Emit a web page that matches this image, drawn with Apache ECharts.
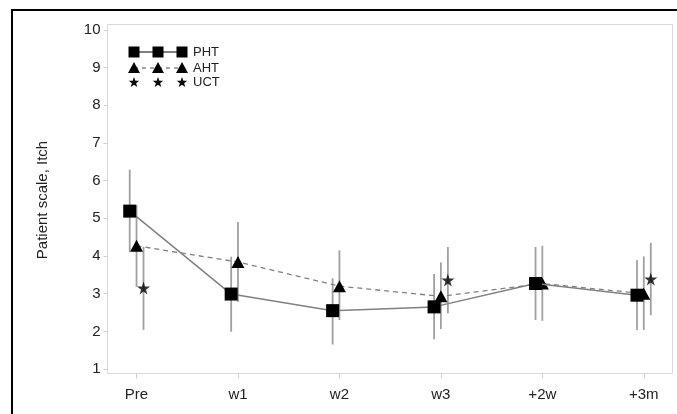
<!DOCTYPE html>
<html><head><meta charset="utf-8">
<script src="https://cdn.jsdelivr.net/npm/echarts@6/dist/echarts.min.js"></script>
<style>html,body{margin:0;padding:0;background:#fff}#c{width:677px;height:414px}</style>
</head><body><div id="c"></div>
<script>
const categories = ['Pre','w1','w2','w3','+2w','+3m'];
const yTicks = [1,2,3,4,5,6,7,8,9,10];
const phtMean = [5.19, 2.99, 2.55, 2.65, 3.27, 2.96];
const phtLow  = [4.10, 1.99, 1.65, 1.79, 2.30, 2.04];
const phtHigh = [6.29, 3.98, 3.41, 3.52, 4.24, 3.89];
const ahtMean = [4.27, 3.84, 3.20, 2.93, 3.27, 3.00];
const ahtLow  = [3.18, 2.78, 2.30, 2.06, 2.28, 2.04];
const ahtHigh = [5.35, 4.90, 4.15, 3.83, 4.27, 3.99];
const uctMean = [3.15, null, null, 3.36, null, 3.39];
const uctLow  = [2.04, null, null, 2.48, null, 2.43];
const uctHigh = [4.24, null, null, 4.24, null, 4.35];

const OFF = {pht:-0.067, aht:0, uct:0.069};
const FONT = 'Liberation Sans, Arial, sans-serif';
const STAR = 'path://M50,0 L61,35 L98,35 L68,57 L79,91 L50,70 L21,91 L32,57 L2,35 L39,35 Z';
const xIdx = categories.map((c,i)=>i);

function pts(mean, off){ return mean.map((v,i)=> v==null?null:[i+off, v]).filter(d=>d); }
function bars(lo, hi, off){ return lo.map((v,i)=> v==null?null:[i+off, v, hi[i]]).filter(d=>d); }
function starPoly(cx, cy, R){
  const r = R*0.4, p=[];
  for(let k=0;k<10;k++){
    const a = -Math.PI/2 + k*Math.PI/5, rr = k%2? r:R;
    p.push([cx+rr*Math.cos(a), cy+rr*Math.sin(a)]);
  }
  return p;
}

const errData = [].concat(bars(phtLow,phtHigh,OFF.pht), bars(ahtLow,ahtHigh,OFF.aht), bars(uctLow,uctHigh,OFF.uct));

const legendX = [134,158,182];
const graphics = [
  {type:'rect', shape:{x:12, y:10, width:720, height:460}, style:{fill:'none', stroke:'#000', lineWidth:2}, silent:true, z:-10},
  {type:'rect', shape:{x:107.5, y:24.5, width:565, height:349}, style:{fill:'none', stroke:'#d9d9d9', lineWidth:1}, silent:true, z:-5},
  {type:'text', x:43, y:200, rotation:Math.PI/2, style:{text:'Patient scale, Itch', font:'15px '+FONT, fill:'#222', textAlign:'center', textVerticalAlign:'middle'}},
  {type:'line', shape:{x1:134, y1:52, x2:182, y2:52}, style:{stroke:'#555', lineWidth:1.5}},
  {type:'line', shape:{x1:134, y1:68, x2:182, y2:68}, style:{stroke:'#777', lineWidth:1.3, lineDash:[4,4]}},
  {type:'text', x:193, y:52.5, style:{text:'PHT', font:'13px '+FONT, fill:'#222', textVerticalAlign:'middle'}},
  {type:'text', x:193, y:68, style:{text:'AHT', font:'13px '+FONT, fill:'#222', textVerticalAlign:'middle'}},
  {type:'text', x:193, y:82.5, style:{text:'UCT', font:'13px '+FONT, fill:'#222', textVerticalAlign:'middle'}}
];
legendX.forEach(x=>{
  graphics.push({type:'rect', shape:{x:x-5.5, y:46.5, width:11, height:11}, style:{fill:'#000'}});
  graphics.push({type:'polygon', shape:{points:[[x,62],[x+6,73],[x-6,73]]}, style:{fill:'#000'}});
  graphics.push({type:'polygon', shape:{points:starPoly(x, 82.5, 5.5)}, style:{fill:'#000'}});
});

const chart = echarts.init(document.getElementById('c'), null, {renderer:'canvas'});
chart.setOption({
  animation:false,
  grid:{left:107.5, right:4.5, top:24.5, bottom:40.5},
  xAxis:{type:'value', min:-0.286, max:5.283,
    axisLine:{show:false, onZero:false}, splitLine:{show:false},
    axisTick:{show:true, length:5, customValues:xIdx, lineStyle:{color:'#cfcfcf'}},
    axisLabel:{fontFamily:FONT, fontSize:15, color:'#222', margin:14, customValues:xIdx,
      formatter:v=>categories[Math.round(v)] ?? ''}},
  yAxis:{type:'value', min:0.883, max:10.14,
    axisLine:{show:false, onZero:false}, splitLine:{show:false},
    axisTick:{show:true, length:4, customValues:yTicks, lineStyle:{color:'#cfcfcf'}},
    axisLabel:{fontFamily:FONT, fontSize:15, color:'#222', margin:7, customValues:yTicks,
      formatter:v=> String(Math.round(v))}},
  graphic:graphics,
  series:[
    {type:'custom', data:errData, clip:false, z:1,
      renderItem:(params, api)=>{
        const x=api.value(0), lo=api.value(1), hi=api.value(2);
        const a=api.coord([x,lo]), b=api.coord([x,hi]);
        return {type:'line', shape:{x1:a[0],y1:a[1],x2:b[0],y2:b[1]}, style:{stroke:'#a0a0a0', lineWidth:1.8}};
      }},
    {type:'line', name:'PHT', data:pts(phtMean,OFF.pht), clip:false, z:3,
      symbol:'rect', symbolSize:13, itemStyle:{color:'#000'},
      lineStyle:{color:'#808080', width:1.5}},
    {type:'line', name:'AHT', data:pts(ahtMean,OFF.aht), clip:false, z:2,
      symbol:'triangle', symbolSize:[13,12], itemStyle:{color:'#000'},
      lineStyle:{color:'#808080', width:1.3, type:[5,4]}},
    {type:'scatter', name:'UCT', data:pts(uctMean,OFF.uct), clip:false, z:3,
      symbol:STAR, symbolSize:13, itemStyle:{color:'#000'}}
  ]
});
</script></body></html>
